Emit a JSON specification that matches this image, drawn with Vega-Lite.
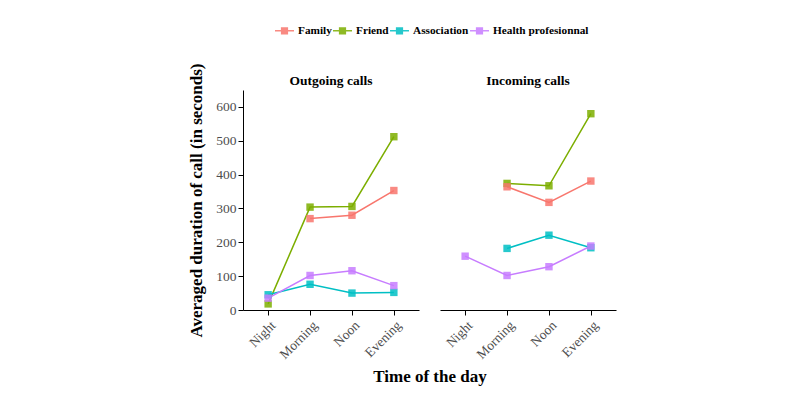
{
  "$schema": "https://vega.github.io/schema/vega-lite/v6.json",
  "padding": {"left": 187, "top": 20, "right": 5, "bottom": 5},
  "data": {"values": [
    {"panel": "Outgoing calls", "time": "Night", "type": "Friend", "value": 18},
    {"panel": "Outgoing calls", "time": "Morning", "type": "Friend", "value": 304},
    {"panel": "Outgoing calls", "time": "Noon", "type": "Friend", "value": 306},
    {"panel": "Outgoing calls", "time": "Evening", "type": "Friend", "value": 512},
    {"panel": "Outgoing calls", "time": "Morning", "type": "Family", "value": 270},
    {"panel": "Outgoing calls", "time": "Noon", "type": "Family", "value": 280},
    {"panel": "Outgoing calls", "time": "Evening", "type": "Family", "value": 353},
    {"panel": "Outgoing calls", "time": "Night", "type": "Association", "value": 45},
    {"panel": "Outgoing calls", "time": "Morning", "type": "Association", "value": 76},
    {"panel": "Outgoing calls", "time": "Noon", "type": "Association", "value": 50},
    {"panel": "Outgoing calls", "time": "Evening", "type": "Association", "value": 52},
    {"panel": "Outgoing calls", "time": "Night", "type": "Health profesionnal", "value": 35},
    {"panel": "Outgoing calls", "time": "Morning", "type": "Health profesionnal", "value": 102},
    {"panel": "Outgoing calls", "time": "Noon", "type": "Health profesionnal", "value": 116},
    {"panel": "Outgoing calls", "time": "Evening", "type": "Health profesionnal", "value": 72},
    {"panel": "Incoming calls", "time": "Morning", "type": "Friend", "value": 374},
    {"panel": "Incoming calls", "time": "Noon", "type": "Friend", "value": 367},
    {"panel": "Incoming calls", "time": "Evening", "type": "Friend", "value": 580},
    {"panel": "Incoming calls", "time": "Morning", "type": "Family", "value": 364},
    {"panel": "Incoming calls", "time": "Noon", "type": "Family", "value": 318},
    {"panel": "Incoming calls", "time": "Evening", "type": "Family", "value": 381},
    {"panel": "Incoming calls", "time": "Morning", "type": "Association", "value": 182},
    {"panel": "Incoming calls", "time": "Noon", "type": "Association", "value": 221},
    {"panel": "Incoming calls", "time": "Evening", "type": "Association", "value": 184},
    {"panel": "Incoming calls", "time": "Night", "type": "Health profesionnal", "value": 159},
    {"panel": "Incoming calls", "time": "Morning", "type": "Health profesionnal", "value": 102},
    {"panel": "Incoming calls", "time": "Noon", "type": "Health profesionnal", "value": 128},
    {"panel": "Incoming calls", "time": "Evening", "type": "Health profesionnal", "value": 189}
  ]},
  "facet": {
    "column": {
      "field": "panel", "type": "nominal",
      "sort": ["Outgoing calls", "Incoming calls"],
      "title": "Time of the day",
      "header": {
        "labelOrient": "top", "titleOrient": "bottom",
        "labelFont": "Liberation Serif", "labelFontWeight": "bold", "labelFontSize": 13.5, "labelColor": "black",
        "titleFont": "Liberation Serif", "titleFontWeight": "bold", "titleFontSize": 17, "titleColor": "black",
        "labelPadding": 3, "titlePadding": -2
      }
    }
  },
  "spacing": 21,
  "spec": {
    "width": 176,
    "height": 220,
    "encoding": {
      "x": {
        "field": "time", "type": "ordinal",
        "sort": ["Night", "Morning", "Noon", "Evening"],
        "scale": {"type": "point", "padding": 0.6},
        "axis": {"title": null, "labelAngle": -45, "labelFont": "Liberation Serif", "labelFontSize": 13.5, "labelColor": "#4D4D4D", "domainColor": "black", "tickColor": "black", "labelPadding": 3}
      },
      "y": {
        "field": "value", "type": "quantitative",
        "scale": {"domain": [0, 650], "nice": false},
        "axis": {"title": "Averaged duration of call (in seconds)", "values": [0, 100, 200, 300, 400, 500, 600], "grid": false,
          "labelFont": "Liberation Serif", "labelFontSize": 13.5, "labelColor": "#4D4D4D",
          "titleFont": "Liberation Serif", "titleFontWeight": "bold", "titleFontSize": 17, "titleColor": "black",
          "domainColor": "black", "tickColor": "black", "titlePadding": 10}
      },
      "color": {
        "field": "type", "type": "nominal",
        "scale": {"domain": ["Family", "Friend", "Association", "Health profesionnal"], "range": ["#F8766D", "#7CAE00", "#00BFC4", "#C77CFF"]},
        "legend": {"title": null, "orient": "none", "legendX": 31, "legendY": -70, "direction": "horizontal",
          "labelFont": "Liberation Serif", "labelFontWeight": "bold", "labelFontSize": 11.3, "labelColor": "black", "labelOffset": 3,
          "symbolType": "M-1,0L1,0M-0.3,-0.3L0.3,-0.3L0.3,0.3L-0.3,0.3Z", "symbolSize": 361, "symbolStrokeWidth": 1.5, "columnPadding": -2}
      }
    },
    "layer": [
      {"mark": {"type": "line", "strokeWidth": 1.5}},
      {"mark": {"type": "point", "shape": "square", "filled": true, "size": 55, "opacity": 0.85}}
    ]
  },
  "config": {"view": {"stroke": null}, "font": "Liberation Serif"}
}
